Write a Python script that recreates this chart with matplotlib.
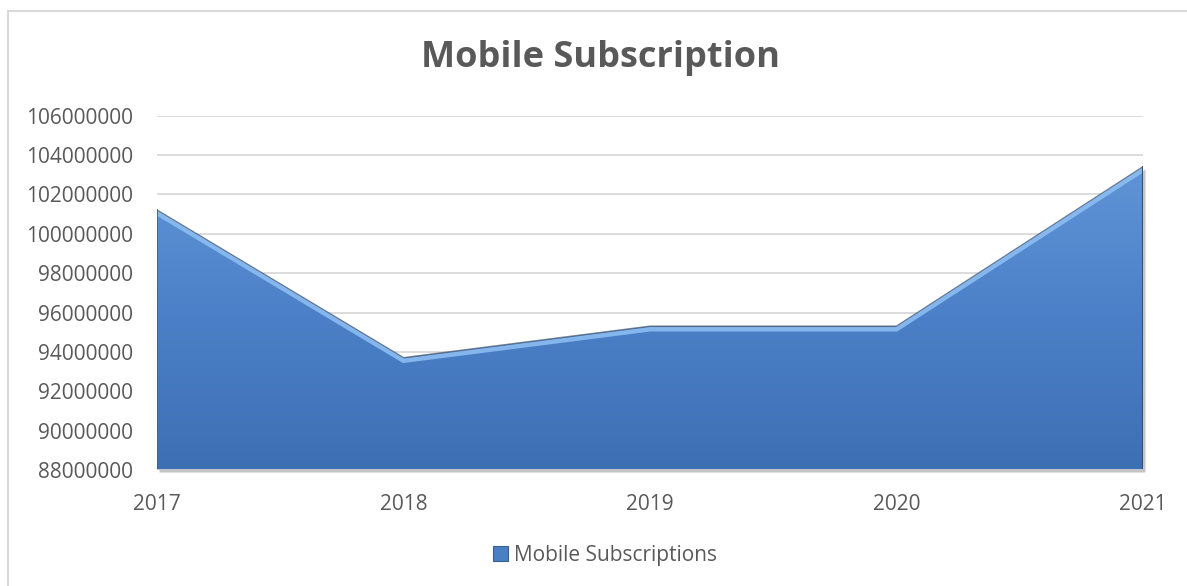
import numpy as np
import matplotlib
matplotlib.use("Agg")
import matplotlib.pyplot as plt
from matplotlib.patches import Patch, Rectangle
from matplotlib.colors import LinearSegmentedColormap
import matplotlib.transforms as mtransforms

plt.rcParams['font.family'] = ['Open Sans', 'DejaVu Sans']

# Data
years = ["2017", "2018", "2019", "2020", "2021"]
subscriptions = [101200000, 93700000, 95300000, 95300000, 103400000]
series_name = "Mobile Subscriptions"
title = "Mobile Subscription"
y_ticks = list(range(88000000, 106000001, 2000000))

text_color = "#595959"
grid_color = "#d9d9d9"

W, H, DPI = 1187, 586, 100
fig = plt.figure(figsize=(W / DPI, H / DPI), dpi=DPI)
fig.patch.set_facecolor("white")

# outer chart frame (left and top edges visible)
fig.add_artist(Rectangle((8 / W, -0.1), 1.2, 1 - 11 / H + 0.1,
                         transform=fig.transFigure, fill=False,
                         edgecolor="#d9d9d9", linewidth=1.5))

ax = fig.add_axes([157 / W, 1 - 470 / H, (1143 - 157) / W, (470 - 115.7) / H])
x = np.arange(len(years))
ymin, ymax = y_ticks[0], y_ticks[-1]
ax.set_xlim(x[0], x[-1])
ax.set_ylim(ymin, ymax)

# gridlines
for t in y_ticks[1:]:
    ax.axhline(t, color=grid_color, linewidth=1.3, zorder=0)
for s in ax.spines.values():
    s.set_visible(False)

# area shadow
shadow_off = mtransforms.offset_copy(ax.transData, fig=fig, x=2, y=-2, units="dots")
ax.fill_between(x, subscriptions, ymin, color="#7f7f7f", alpha=0.45,
                transform=shadow_off, linewidth=0, zorder=1, clip_on=False)

# area with vertical gradient
area = ax.fill_between(x, subscriptions, ymin, facecolor="none", linewidth=0, zorder=2)
cmap = LinearSegmentedColormap.from_list("blue_grad", ["#3d6fb3", "#4b80c8", "#5f95d6"])
grad = np.linspace(0, 1, 256).reshape(-1, 1)
img = ax.imshow(grad, cmap=cmap, origin="lower", aspect="auto",
                extent=[x[0], x[-1], ymin, max(subscriptions)], zorder=2,
                interpolation="bicubic")
img.set_clip_path(area.get_paths()[0], transform=ax.transData)

# bevel: dark outline and light highlight along the top edge
ax.plot(x, subscriptions, color="#4a5f7a", linewidth=1.2, alpha=0.8, zorder=3,
        solid_joinstyle="miter")
hl_off = mtransforms.offset_copy(ax.transData, fig=fig, x=0, y=-3, units="dots")
ax.plot(x, subscriptions, color="#8fc0f4", linewidth=3.2, alpha=0.85,
        transform=hl_off, zorder=3, solid_joinstyle="miter")
ax.plot([x[-1], x[-1]], [ymin, subscriptions[-1]], color="#3b4f6a",
        linewidth=1.5, zorder=3)
ax.plot([x[0], x[0]], [ymin, subscriptions[0]], color="#3b5f95",
        linewidth=1.2, zorder=3)

# base line
ax.axhline(ymin, color="#d0d0d0", linewidth=2.0, zorder=4)

ax.set_yticks(y_ticks)
ax.set_yticklabels([str(t) for t in y_ticks])
ax.set_xticks(x)
ax.set_xticklabels(years)
ax.tick_params(axis="both", length=0, labelsize=15, labelcolor=text_color)
ax.tick_params(axis="y", pad=17)
ax.tick_params(axis="x", pad=17.5)

fig.text(601 / W, 1 - 58 / H, title, ha="center", va="center",
         fontsize=26, fontweight="bold", color=text_color)

handle = Patch(facecolor="#4a7fc4", edgecolor="#3a5f95", linewidth=0.8)
fig.legend([handle], [series_name], loc="center", bbox_to_anchor=(605 / W, 1 - 555 / H),
           frameon=False, fontsize=15, labelcolor=text_color,
           handlelength=0.7, handleheight=0.7, handletextpad=0.3)

fig.savefig("out.png", dpi=DPI)
